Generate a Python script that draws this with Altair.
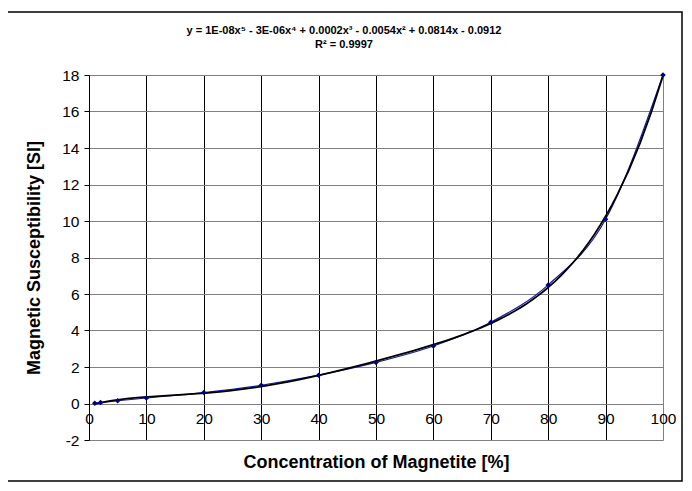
import altair as alt
import pandas as pd

concentration = [1, 2, 5, 10, 20, 30, 40, 50, 60, 70, 80, 90, 100]
susceptibility = [0.01, 0.05, 0.15, 0.30, 0.60, 1.00, 1.55, 2.25, 3.15, 4.45, 6.50, 10.10, 18.00]

equation = "y = 1E-08x\u2075 - 3E-06x\u2074 + 0.0002x\u00b3 - 0.0054x\u00b2 + 0.0814x - 0.0912"
r2_text = "R\u00b2 = 0.9997"

df = pd.DataFrame({"x": concentration, "y": susceptibility})

W, H = 574, 365
FONT = "Liberation Sans"

xscale = alt.Scale(domain=[0, 100], nice=False, zero=False)
yscale = alt.Scale(domain=[-2, 18], nice=False, zero=False)

xaxis = alt.Axis(
    values=list(range(0, 101, 10)), tickCount=11,
    title="Concentration of Magnetite [%]",
    titleFontSize=18, titleFontWeight="bold", titleFont=FONT, titleColor="black",
    titlePadding=26,
    labelFontSize=15.5, labelFont=FONT, labelColor="black", labelPadding=8,
    labelOverlap=False, labelExpr="'' + datum.value",
    offset=-36.5, domain=False, ticks=False,
    grid=True, gridColor={"condition": {"test": "datum.value >= 100", "value": "#808080"}, "value": "black"},
    gridWidth=1, labelFlush=False,
)
yaxis = alt.Axis(
    values=list(range(-2, 19, 2)), tickCount=11,
    title="Magnetic Susceptibility [SI]",
    titleFontSize=18, titleFontWeight="bold", titleFont=FONT, titleColor="black",
    titlePadding=18,
    labelFontSize=15.5, labelFont=FONT, labelColor="black", labelPadding=5,
    labelOverlap=False, labelExpr="'' + datum.value",
    domain=True, domainColor="black", domainWidth=1,
    ticks=True, tickColor="black", tickSize=5,
    grid=True, gridColor="#808080", gridWidth=1,
)

base = alt.Chart(df)

series = base.mark_line(color="#1a1aa0", strokeWidth=1.2, interpolate="monotone").encode(
    x=alt.X("x:Q", scale=xscale, axis=xaxis),
    y=alt.Y("y:Q", scale=yscale, axis=yaxis),
)
points = base.mark_point(shape="diamond", filled=True, color="#000080", size=30, opacity=1).encode(
    x=alt.X("x:Q", scale=xscale),
    y=alt.Y("y:Q", scale=yscale),
)
trend = base.transform_regression("x", "y", method="poly", order=5).mark_line(
    color="black", strokeWidth=1.8
).encode(
    x=alt.X("x:Q", scale=xscale),
    y=alt.Y("y:Q", scale=yscale),
)

frame = alt.Chart(pd.DataFrame({"a": [0]})).mark_rect(
    fill=None, stroke="black", strokeWidth=1.5, clip=False
).encode(
    x=alt.value(-82), x2=alt.value(W + 19),
    y=alt.value(-63), y2=alt.value(H + 41),
)

def label(text, ypix):
    return alt.Chart(pd.DataFrame({"t": [text]})).mark_text(
        font=FONT, fontSize=11, fontWeight="bold", color="black",
        align="center", baseline="middle",
    ).encode(
        text="t:N",
        x=alt.value(255),
        y=alt.value(ypix),
    )

chart = alt.layer(
    frame, series, trend, points, label(equation, -44), label(r2_text, -30)
).properties(
    width=W, height=H,
    padding={"left": 81, "top": 67, "right": 21, "bottom": 43},
    autosize=alt.AutoSizeParams(type="none"),
).configure_view(stroke="#808080", strokeWidth=1).configure(background="white")

chart.save("out.html", embed_options={"renderer": "svg", "actions": False})
